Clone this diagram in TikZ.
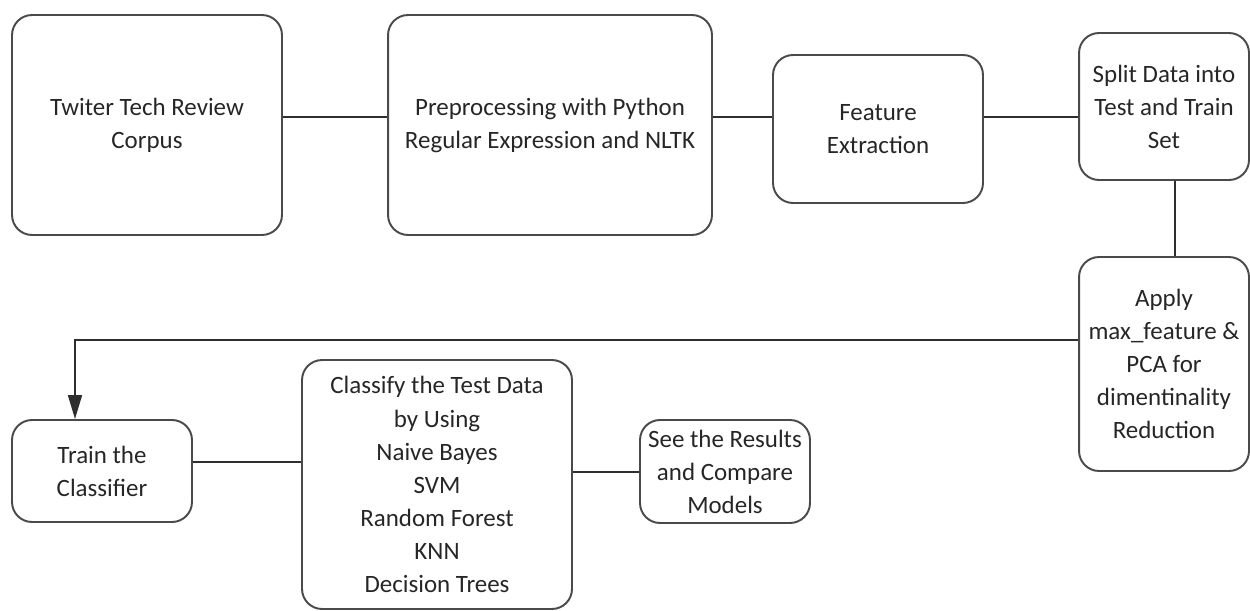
\documentclass[tikz,border=0pt]{standalone}
\usepackage{fontspec}
\setmainfont{Carlito}
\usepackage{xcolor}
\usepackage{tikz}
\usetikzlibrary{arrows.meta,positioning}
\definecolor{boxgray}{HTML}{4A4A4A}
\definecolor{linegray}{HTML}{2E2E2E}
\tikzset{
  stage/.style={draw=boxgray,rounded corners=0.4cm,align=center,line width=1.1pt,
    font=\fontsize{14.2}{18.8}\selectfont,inner sep=1pt,text=black!85},
  link/.style={draw=linegray,line width=1pt},
  flow/.style={link,-{Triangle[length=4.8mm,width=2.8mm]}}
}

\begin{document}
\begin{tikzpicture}[x=0.02cm,y=-0.02cm]
  \useasboundingbox (0,0) rectangle (1250,611);
  % Top row
  \node[stage,minimum width=5.4cm,minimum height=4.4cm] (corpus) at (147,125)
    {Twiter Tech Review\\Corpus};
  \node[stage,minimum width=6.48cm,minimum height=4.4cm] (prep) at (550,125)
    {Preprocessing with Python\\Regular Expression and NLTK};
  \node[stage,minimum width=4.2cm,minimum height=2.96cm] (feat) at (878,129)
    {Feature\\Extraction};
  \node[stage,minimum width=3.4cm,minimum height=2.94cm] (split) at (1164,106.5)
    {Split Data into\\Test and Train\\Set};
  % Right column
  \node[stage,minimum width=3.4cm,minimum height=4.28cm] (apply) at (1164,364)
    {Apply\\max\_feature \&\\PCA for\\dimentinality\\Reduction};
  % Bottom row
  \node[stage,minimum width=3.6cm,minimum height=2.04cm] (train) at (102,471)
    {Train the\\Classifier};
  \node[stage,minimum width=5.4cm,minimum height=4.98cm] (classify) at (437,484.5)
    {Classify the Test Data\\by Using\\Naive Bayes\\SVM\\Random Forest\\KNN\\Decision Trees};
  \node[stage,minimum width=3.4cm,minimum height=2.06cm] (see) at (725,471.5)
    {See the Results\\and Compare\\Models};
  % Connector levels
  \coordinate (row1) at (0,117);
  \coordinate (drop) at (1175,0);
  \coordinate (bend) at (75,340);
  \coordinate (row2) at (0,462);
  \coordinate (row3) at (0,472);
  % Connectors
  \draw[link] (corpus.east |- row1) -- (prep.west |- row1);
  \draw[link] (prep.east |- row1) -- (feat.west |- row1);
  \draw[link] (feat.east |- row1) -- (split.west |- row1);
  \draw[link] (split.south -| drop) -- (apply.north -| drop);
  \draw[flow] (apply.west |- bend) -- (bend) -- (train.north -| bend);
  \draw[link] (train.east |- row2) -- (classify.west |- row2);
  \draw[link] (classify.east |- row3) -- (see.west |- row3);
\end{tikzpicture}
\end{document}
